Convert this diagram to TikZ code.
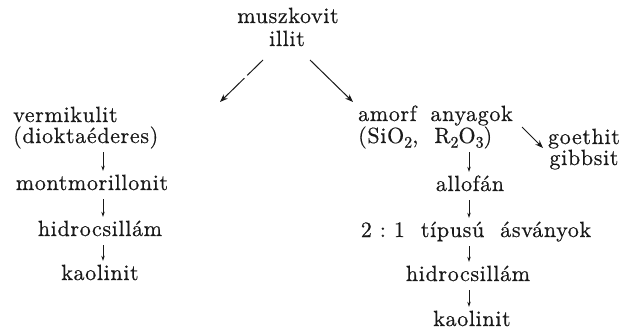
\documentclass[tikz,border=0pt]{standalone}
\usepackage{fontspec}
\setmainfont{lmroman10-regular.otf}[LetterSpace=3,FakeBold=0.5]
\usetikzlibrary{arrows.meta,calc}
\newcommand{\subd}[1]{\raisebox{-4.5pt}{\fontsize{16}{16}\selectfont #1}}
\begin{document}
\begin{tikzpicture}[x=1pt,y=-1pt,
  txt/.style={inner sep=0pt,text height=15pt,text depth=3pt,font=\fontsize{22}{26}\selectfont,text=black!90},
  bigarr/.style={line width=1pt,draw=black!90,-{Stealth[length=8pt,width=6pt]}},
  darr/.style={line width=0.8pt,draw=black!90,-{Stealth[length=5pt,width=3.4pt]},shorten <=6pt,shorten >=4pt}]
\useasboundingbox[fill=white] (0,0) rectangle (623,334);
% top
\node[txt,anchor=base] (musz) at (288,23) {muszkovit};
\node[txt,anchor=base] (illit) at (287,46) {illit};
% left column
\node[txt,anchor=base west] (verm) at (13,122) {vermikulit};
\node[txt,anchor=base west] (diok) at (13,143) {(dioktaéderes)};
\node[txt,anchor=base] (mont) at (92,190) {montmorillonit};
\node[txt,anchor=base] (hidl) at (100,236) {hidrocsillám};
\node[txt,anchor=base] (kaol) at (100,280) {kaolinit};
% right column
\node[txt,anchor=base west] (amorf) at (358,121) {amorf\hspace{6pt} anyagok};
\node[txt,anchor=base west] (sio) at (358,143) {(SiO\subd{2},\ \ R\subd{2}O\subd{3})};
\node[txt,anchor=base] (allo) at (470,191) {allofán};
\node[txt,anchor=base] (tipus) at (476,237) {2\ :\ 1\ \ típusú\ \ ásványok};
\node[txt,anchor=base] (hidr) at (468,281) {hidrocsillám};
\node[txt,anchor=base] (kaor) at (472,326) {kaolinit};
\node[txt,anchor=base] (goet) at (584,144) {goethit};
\node[txt,anchor=base] (gibb) at (584,165) {gibbsit};
% arrow columns
\coordinate (lx) at (103,0);
\coordinate (rx) at (469,0);
\draw[darr] (diok.south -| lx) -- (mont.north -| lx);
\draw[darr] (mont.south -| lx) -- (hidl.north -| lx);
\draw[darr] (hidl.south -| lx) -- (kaol.north -| lx);
\draw[darr] (sio.south -| rx) -- (allo.north -| rx);
\draw[darr] (allo.south -| rx) -- (tipus.north -| rx);
\draw[darr] (tipus.south -| rx) -- (hidr.north -| rx);
\draw[darr] (hidr.south -| rx) -- (kaor.north -| rx);
% big arrows
\coordinate (ls) at (263,60);
\coordinate (le) at (220,102);
\coordinate (rs) at (310,60);
\coordinate (re) at (353,102);
\draw[bigarr,dash pattern=on 22pt off 4pt on 60pt] (ls) -- (le);
\draw[bigarr] (rs) -- (re);
\coordinate (gs) at (522,127);
\coordinate (ge) at (543,148);
\draw[bigarr] (gs) -- (ge);
\end{tikzpicture}
\end{document}
